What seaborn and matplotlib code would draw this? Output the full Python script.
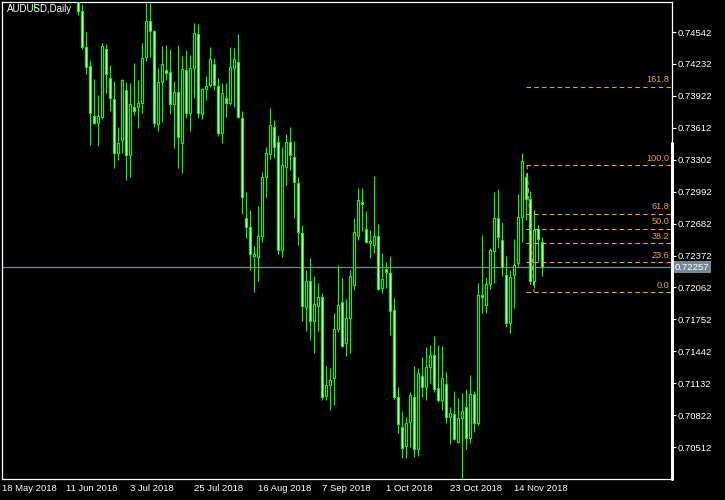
import numpy as np
import pandas as pd
import matplotlib
matplotlib.use("Agg")
import matplotlib.pyplot as plt
import seaborn as sns

title = "AUDUSD,Daily"

# daily OHLC, 18 May 2018 .. 23 Nov 2018 (first bars sit above the visible range)
opens = [0.7520, 0.7510, 0.7540, 0.7530, 0.7520, 0.7540, 0.7550, 0.7510, 0.7525, 0.7530,
         0.7565, 0.7580, 0.7590, 0.7620, 0.7610, 0.7600, 0.7630, 0.7620, 0.7610, 0.7540,
         0.7475, 0.7440, 0.7421, 0.7373, 0.7366, 0.7372, 0.7438, 0.7410, 0.7389, 0.7337,
         0.7349, 0.7398, 0.7335, 0.7381, 0.7381, 0.7385, 0.7430, 0.7465, 0.7455, 0.7365,
         0.7406, 0.7417, 0.7415, 0.7384, 0.7396, 0.7346, 0.7417, 0.7376, 0.7419, 0.7452,
         0.7375, 0.7399, 0.7403, 0.7423, 0.7402, 0.7356, 0.7390, 0.7385, 0.7419, 0.7425,
         0.7371, 0.7274, 0.7265, 0.7237, 0.7236, 0.7256, 0.7313, 0.7336, 0.7362, 0.7347,
         0.7243, 0.7323, 0.7347, 0.7333, 0.7308, 0.7259, 0.7187, 0.7212, 0.7174, 0.7188,
         0.7197, 0.7101, 0.7111, 0.7118, 0.7166, 0.7192, 0.7152, 0.7177, 0.7209, 0.7256,
         0.7289, 0.7263, 0.7249, 0.7247, 0.7256, 0.7206, 0.7224, 0.7220, 0.7184, 0.7100,
         0.7071, 0.7052, 0.7076, 0.7100, 0.7049, 0.7120, 0.7110, 0.7129, 0.7141, 0.7109,
         0.7097, 0.7112, 0.7080, 0.7083, 0.7056, 0.7079, 0.7090, 0.7060, 0.7103, 0.7075,
         0.7199, 0.7189, 0.7210, 0.7242, 0.7274, 0.7252, 0.7218, 0.7172, 0.7218, 0.7230,
         0.7275, 0.7313, 0.7292, 0.7212, 0.7263, 0.7250]
highs = [0.7536, 0.7545, 0.7560, 0.7550, 0.7545, 0.7560, 0.7560, 0.7530, 0.7545, 0.7575,
         0.7590, 0.7600, 0.7630, 0.7640, 0.7630, 0.7640, 0.7660, 0.7650, 0.7620, 0.7548,
         0.7481, 0.7454, 0.7427, 0.7409, 0.7393, 0.7444, 0.7443, 0.7422, 0.7407, 0.7362,
         0.7409, 0.7406, 0.7405, 0.7424, 0.7408, 0.7444, 0.7482, 0.7482, 0.7456, 0.7419,
         0.7441, 0.7442, 0.7438, 0.7407, 0.7442, 0.7431, 0.7437, 0.7432, 0.7463, 0.7462,
         0.7400, 0.7412, 0.7440, 0.7429, 0.7410, 0.7405, 0.7405, 0.7440, 0.7439, 0.7452,
         0.7378, 0.7299, 0.7281, 0.7246, 0.7285, 0.7318, 0.7343, 0.7380, 0.7369, 0.7354,
         0.7343, 0.7355, 0.7362, 0.7348, 0.7313, 0.7267, 0.7223, 0.7235, 0.7217, 0.7211,
         0.7201, 0.7130, 0.7128, 0.7181, 0.7228, 0.7215, 0.7195, 0.7223, 0.7274, 0.7303,
         0.7303, 0.7280, 0.7262, 0.7314, 0.7268, 0.7240, 0.7231, 0.7237, 0.7196, 0.7110,
         0.7086, 0.7080, 0.7105, 0.7130, 0.7128, 0.7139, 0.7148, 0.7150, 0.7159, 0.7150,
         0.7149, 0.7124, 0.7090, 0.7106, 0.7099, 0.7104, 0.7108, 0.7121, 0.7106, 0.7211,
         0.7257, 0.7216, 0.7245, 0.7299, 0.7302, 0.7270, 0.7237, 0.7223, 0.7253, 0.7297,
         0.7337, 0.7317, 0.7300, 0.7281, 0.7267, 0.7255]
lows = [0.7497, 0.7505, 0.7525, 0.7510, 0.7500, 0.7525, 0.7500, 0.7495, 0.7476, 0.7520,
        0.7550, 0.7560, 0.7580, 0.7600, 0.7590, 0.7590, 0.7610, 0.7600, 0.7540, 0.7471,
        0.7438, 0.7413, 0.7345, 0.7365, 0.7344, 0.7370, 0.7395, 0.7378, 0.7322, 0.7330,
        0.7337, 0.7311, 0.7313, 0.7374, 0.7361, 0.7376, 0.7426, 0.7430, 0.7362, 0.7358,
        0.7367, 0.7408, 0.7375, 0.7342, 0.7322, 0.7317, 0.7371, 0.7358, 0.7390, 0.7371,
        0.7370, 0.7388, 0.7401, 0.7398, 0.7353, 0.7346, 0.7372, 0.7383, 0.7381, 0.7371,
        0.7278, 0.7254, 0.7223, 0.7202, 0.7212, 0.7250, 0.7294, 0.7331, 0.7332, 0.7239,
        0.7236, 0.7306, 0.7320, 0.7274, 0.7247, 0.7174, 0.7164, 0.7155, 0.7143, 0.7164,
        0.7097, 0.7097, 0.7087, 0.7092, 0.7163, 0.7148, 0.7140, 0.7143, 0.7204, 0.7252,
        0.7261, 0.7249, 0.7235, 0.7240, 0.7204, 0.7201, 0.7206, 0.7160, 0.7098, 0.7065,
        0.7041, 0.7041, 0.7051, 0.7042, 0.7043, 0.7100, 0.7097, 0.7113, 0.7105, 0.7095,
        0.7087, 0.7075, 0.7054, 0.7058, 0.7055, 0.7021, 0.7049, 0.7055, 0.7066, 0.7073,
        0.7181, 0.7181, 0.7205, 0.7211, 0.7245, 0.7217, 0.7168, 0.7162, 0.7186, 0.7227,
        0.7250, 0.7272, 0.7210, 0.7206, 0.7232, 0.7217]
closes = [0.7510, 0.7540, 0.7530, 0.7520, 0.7540, 0.7550, 0.7510, 0.7525, 0.7530, 0.7565,
          0.7580, 0.7590, 0.7620, 0.7610, 0.7600, 0.7630, 0.7620, 0.7610, 0.7550, 0.7475,
          0.7440, 0.7420, 0.7376, 0.7366, 0.7373, 0.7441, 0.7413, 0.7390, 0.7337, 0.7346,
          0.7408, 0.7335, 0.7384, 0.7378, 0.7385, 0.7429, 0.7465, 0.7455, 0.7366, 0.7406,
          0.7423, 0.7414, 0.7384, 0.7396, 0.7352, 0.7418, 0.7376, 0.7419, 0.7453, 0.7376,
          0.7399, 0.7402, 0.7428, 0.7403, 0.7356, 0.7395, 0.7385, 0.7420, 0.7428, 0.7372,
          0.7294, 0.7265, 0.7239, 0.7239, 0.7256, 0.7313, 0.7337, 0.7364, 0.7343, 0.7243,
          0.7325, 0.7347, 0.7335, 0.7309, 0.7260, 0.7188, 0.7212, 0.7174, 0.7190, 0.7197,
          0.7100, 0.7111, 0.7116, 0.7166, 0.7189, 0.7149, 0.7177, 0.7217, 0.7260, 0.7291,
          0.7287, 0.7250, 0.7251, 0.7256, 0.7205, 0.7214, 0.7221, 0.7183, 0.7100, 0.7074,
          0.7050, 0.7075, 0.7102, 0.7049, 0.7123, 0.7110, 0.7129, 0.7141, 0.7108, 0.7097,
          0.7118, 0.7080, 0.7084, 0.7059, 0.7079, 0.7086, 0.7060, 0.7103, 0.7075, 0.7199,
          0.7197, 0.7210, 0.7243, 0.7274, 0.7255, 0.7226, 0.7172, 0.7216, 0.7228, 0.7275,
          0.7329, 0.7292, 0.7212, 0.7262, 0.7253, 0.72257]

date_ticks = [0, 16, 32, 48, 64, 80, 96, 112, 128]
date_labels = ["18 May 2018", "11 Jun 2018", "3 Jul 2018", "25 Jul 2018", "16 Aug 2018",
               "7 Sep 2018", "1 Oct 2018", "23 Oct 2018", "14 Nov 2018"]
price_ticks = [0.74542, 0.74232, 0.73922, 0.73612, 0.73302, 0.72992, 0.72682,
               0.72372, 0.72062, 0.71752, 0.71442, 0.71132, 0.70822, 0.70512]
last_price = 0.72257

fib_low = 0.72018
fib_high = 0.73251
fib_levels = [0.0, 23.6, 38.2, 50.0, 61.8, 100.0, 161.8]
fib_start = 131

bull_col = "#00ff00"
fib_col = "#f0a030"

sns.set_style("dark", {"axes.facecolor": "black", "figure.facecolor": "black",
                       "axes.edgecolor": "white", "axes.grid": False,
                       "xtick.color": "white", "ytick.color": "white",
                       "text.color": "white"})
plt.rcParams['font.family'] = ['Liberation Sans', 'DejaVu Sans']

df = pd.DataFrame({"open": opens, "high": highs, "low": lows, "close": closes})
df["bear"] = df["close"] < df["open"]
df["bottom"] = df[["open", "close"]].min(axis=1)
df["body"] = (df["close"] - df["open"]).abs().clip(lower=0.00004)

fig = plt.figure(figsize=(7.25, 5), dpi=100)
ax = fig.add_axes([2 / 725, 21 / 500, 670 / 725, 477 / 500])
ax.set_facecolor("black")

xmax = 167.5
ax.set_xlim(0, xmax)
ax.set_ylim(0.70202, 0.74834)

# current price line
ax.axhline(last_price, color="#778899", lw=0.9, zorder=1)

# candles
ax.vlines(df.index, df["low"], df["high"], color=bull_col, lw=0.8, zorder=2)
ax.bar(df.index, df["body"], bottom=df["bottom"], width=0.55,
       color=np.where(df["bear"], "white", "black"), edgecolor=bull_col,
       linewidth=0.8, zorder=3)

# fibonacci retracement
rng = fib_high - fib_low
for lvl in fib_levels:
    p = fib_low + rng * lvl / 100
    ax.hlines(p, fib_start, xmax, colors=fib_col, linestyles=(0, (4, 3)), lw=0.8, zorder=4)
    ax.annotate(f"{lvl:.1f}", xy=(xmax - 0.6, p), xytext=(0, 1.5), textcoords="offset points",
                ha="right", va="bottom", color=fib_col, fontsize=6.6, zorder=5)
ax.plot([fib_start + 0.25, fib_start + 2], [fib_high, fib_low], color=fib_col,
        ls=(0, (4, 3)), lw=0.8, zorder=4)

# axes styling
for s in ax.spines.values():
    s.set_color("white")
    s.set_linewidth(0.9)
ax.yaxis.tick_right()
ax.set_yticks(price_ticks)
ax.set_yticklabels([f"{t:.5f}" for t in price_ticks])
ax.set_xticks(date_ticks)
ax.set_xticklabels(date_labels)
for lab in ax.get_xticklabels():
    lab.set_ha("left")
ax.tick_params(axis="y", colors="white", length=3, width=0.8, pad=1, labelsize=6.8)
ax.tick_params(axis="x", colors="white", length=3, width=0.8, pad=0.5, labelsize=6.8)

# thick marker on the right border
ax.plot([xmax, xmax], [0.70202, 0.7346], color="white", lw=2.2, clip_on=False, zorder=6)

# last price box
ax.annotate(f"{last_price:.5f}", xy=(1, last_price), xycoords=("axes fraction", "data"),
            xytext=(2, 0), textcoords="offset points", ha="left", va="center",
            color="white", fontsize=6.8,
            bbox=dict(boxstyle="square,pad=0.15", fc="#778899", ec="none"))

fig.text(7 / 725, 1 - 9 / 500, title, color="white", fontsize=7, ha="left", va="center")

fig.savefig("out.png", dpi=100, facecolor="black")
